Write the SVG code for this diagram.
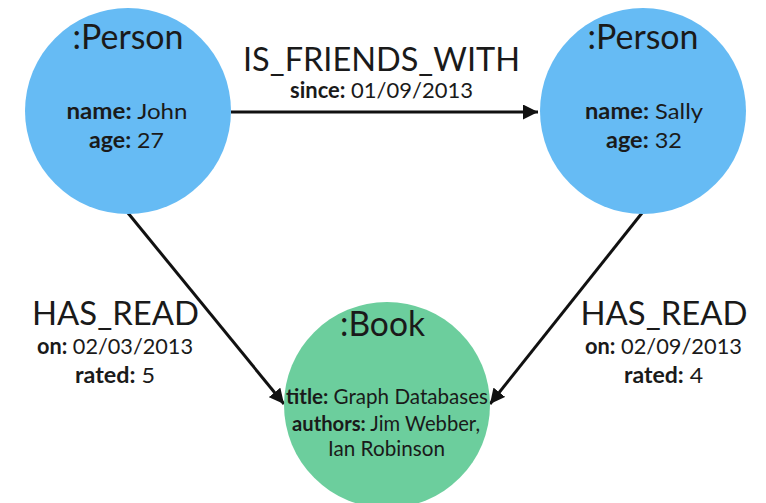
<svg xmlns="http://www.w3.org/2000/svg" width="766" height="503" viewBox="0 0 766 503">
<defs>
<style>
.person{fill:#66BBF4}
.book{fill:#6CCE9D}
text{font-family:Lato,"Open Sans","Liberation Sans",sans-serif;fill:#1a1a1a;text-anchor:middle}
.lbl{font-size:34px}
.rel{font-size:33.5px}
.prop{font-size:22px}
.bprop{font-size:21px}
.k{font-weight:bold}
.edge{stroke:#111;stroke-width:3;fill:none;marker-end:url(#arr)}
</style>
<marker id="arr" viewBox="0 0 10 10" refX="10" refY="5" markerWidth="5" markerHeight="5" markerUnits="strokeWidth" orient="auto">
<path d="M0,0 L10,5 L0,10 z" fill="#111"/>
</marker>
</defs>
<rect width="766" height="503" fill="#fff"/>
<g id="connectors">
<line class="edge" x1="231" y1="112" x2="538" y2="112"/>
<line class="edge" x1="128" y1="213" x2="284" y2="404"/>
<line class="edge" x1="642" y1="213" x2="490" y2="404"/>
</g>
<g id="john">
<circle class="person" cx="128" cy="111" r="103"/>
<text class="lbl" x="128" y="49" textLength="111" lengthAdjust="spacingAndGlyphs">:Person</text>
<text class="prop" x="127" y="119" textLength="121" lengthAdjust="spacingAndGlyphs"><tspan class="k">name:</tspan> John</text>
<text class="prop" x="126.5" y="148" textLength="75" lengthAdjust="spacingAndGlyphs"><tspan class="k">age:</tspan> 27</text>
</g>
<g id="sally">
<circle class="person" cx="643" cy="111" r="103"/>
<text class="lbl" x="643" y="49" textLength="111" lengthAdjust="spacingAndGlyphs">:Person</text>
<text class="prop" x="644" y="119" textLength="118" lengthAdjust="spacingAndGlyphs"><tspan class="k">name:</tspan> Sally</text>
<text class="prop" x="644" y="148" textLength="76" lengthAdjust="spacingAndGlyphs"><tspan class="k">age:</tspan> 32</text>
</g>
<g id="book">
<circle class="book" cx="387" cy="405" r="103"/>
<text class="lbl" x="382.5" y="336" textLength="85" lengthAdjust="spacingAndGlyphs">:Book</text>
<text class="bprop" x="387" y="404" textLength="202" lengthAdjust="spacingAndGlyphs"><tspan class="k">title:</tspan> Graph Databases</text>
<text class="bprop" x="386" y="431" textLength="188" lengthAdjust="spacingAndGlyphs"><tspan class="k">authors:</tspan> Jim Webber,</text>
<text class="bprop" x="386.5" y="456" textLength="117" lengthAdjust="spacingAndGlyphs">Ian Robinson</text>
</g>
<g id="edge-labels">
<text class="rel" x="381.5" y="71" textLength="277" lengthAdjust="spacingAndGlyphs">IS_FRIENDS_WITH</text>
<text class="prop" x="381.5" y="98" textLength="183" lengthAdjust="spacingAndGlyphs"><tspan class="k">since:</tspan> 01/09/2013</text>
<text class="rel" x="115.5" y="325" textLength="167" lengthAdjust="spacingAndGlyphs">HAS_READ</text>
<text class="prop" x="115" y="354" textLength="156" lengthAdjust="spacingAndGlyphs"><tspan class="k">on:</tspan> 02/03/2013</text>
<text class="prop" x="115" y="383" textLength="80" lengthAdjust="spacingAndGlyphs"><tspan class="k">rated:</tspan> 5</text>
<text class="rel" x="664" y="325" textLength="167" lengthAdjust="spacingAndGlyphs">HAS_READ</text>
<text class="prop" x="663.5" y="354" textLength="157" lengthAdjust="spacingAndGlyphs"><tspan class="k">on:</tspan> 02/09/2013</text>
<text class="prop" x="663.5" y="383" textLength="79" lengthAdjust="spacingAndGlyphs"><tspan class="k">rated:</tspan> 4</text>
</g>
</svg>
